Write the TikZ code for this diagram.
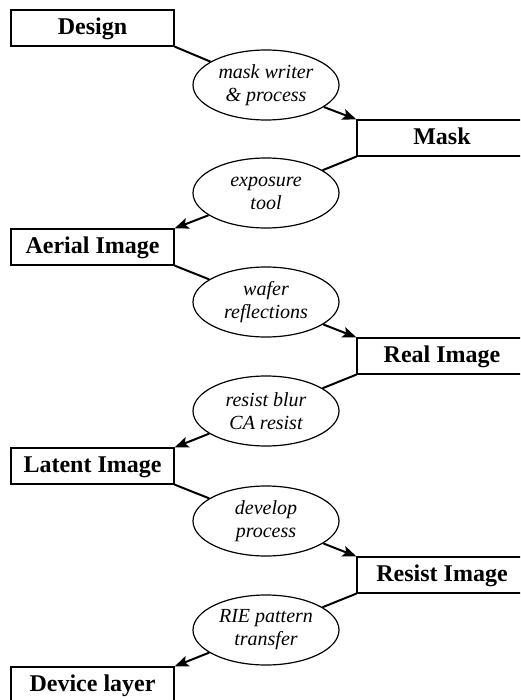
\documentclass[tikz,border=0pt]{standalone}
\usepackage{fontspec}
\setmainfont{Liberation Serif}
\usetikzlibrary{shapes.geometric,arrows.meta}

\tikzset{
  stagebox/.style={draw, line width=1.2pt, minimum height=36pt, inner sep=0pt,
    text depth=3pt, font=\fontsize{24pt}{26pt}\selectfont\bfseries},
  leftbox/.style={stagebox, minimum width=163pt},
  rightbox/.style={stagebox, minimum width=170pt},
  toolbubble/.style={draw, ellipse, line width=1.2pt, minimum width=146pt,
    minimum height=70pt, inner sep=0pt, align=center,
    font=\fontsize{20pt}{23pt}\selectfont\itshape},
  link/.style={line width=2pt},
  feed/.style={link, -{Stealth[length=14pt,width=11pt,inset=3pt]}}
}

\begin{document}
\begin{tikzpicture}[x=1pt,y=-1pt]
  \useasboundingbox (0,0) rectangle (520,700);
  \clip (0,0) rectangle (520,700);

  % process stages, alternating left and right
  \node[leftbox]  (design) at (92.5,28)  {Design};
  \node[rightbox] (mask)   at (442,138)  {Mask};
  \node[leftbox]  (aerial) at (92.5,247) {Aerial Image};
  \node[rightbox] (real)   at (442,356)  {Real Image};
  \node[leftbox]  (latent) at (92.5,466) {Latent Image};
  \node[rightbox] (resist) at (442,575)  {Resist Image};
  \node[leftbox]  (device) at (92.5,685) {Device layer};

  % transfer steps between stages
  \node[toolbubble] (t1) at (266,85)    {mask writer\\\& process};
  \node[toolbubble] (t2) at (266,193)   {exposure\\tool};
  \node[toolbubble] (t3) at (266,302)   {wafer\\reflections};
  \node[toolbubble] (t4) at (266,411)   {resist blur\\CA resist};
  \node[toolbubble] (t5) at (266,521)   {develop\\process};
  \node[toolbubble] (t6) at (266,630)   {RIE pattern\\transfer};

  % connectors
  \draw[link] (design.south east) -- (t1);
  \draw[feed] (t1) -- (mask.north west);
  \draw[link] (mask.south west) -- (t2);
  \draw[feed] (t2) -- (aerial.north east);
  \draw[link] (aerial.south east) -- (t3);
  \draw[feed] (t3) -- (real.north west);
  \draw[link] (real.south west) -- (t4);
  \draw[feed] (t4) -- (latent.north east);
  \draw[link] (latent.south east) -- (t5);
  \draw[feed] (t5) -- (resist.north west);
  \draw[link] (resist.south west) -- (t6);
  \draw[feed] (t6) -- (device.north east);
\end{tikzpicture}
\end{document}
